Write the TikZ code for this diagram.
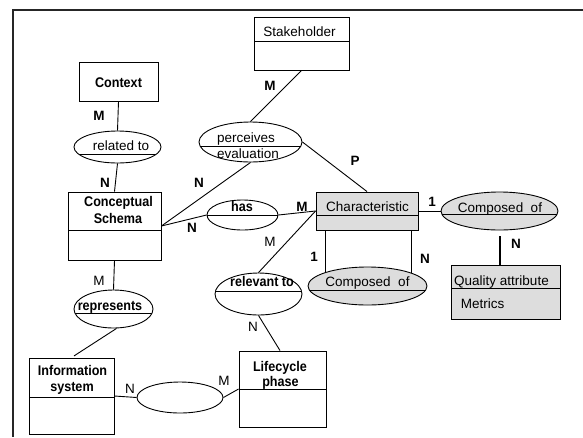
\documentclass[tikz,border=0pt]{standalone}
\usepackage{fontspec}
\setmainfont{Liberation Sans}
\newfontfamily\narrowfont[FakeStretch=0.9]{Liberation Sans}
\usetikzlibrary{shapes.geometric}
\definecolor{fillgray}{HTML}{DDDDDD}
\tikzset{
  ent/.style={draw, rectangle, inner sep=0pt, line width=0.9pt},
  rel/.style={draw, ellipse, inner sep=0pt, line width=0.9pt},
  grayfill/.style={fill=fillgray},
  divider/.style={path picture={\draw[line width=0.9pt] ([yshift=-#1pt]path picture bounding box.north west) -- ([yshift=-#1pt]path picture bounding box.north east);}},
  chordline/.style={path picture={\draw[line width=0.9pt] ([yshift=-#1pt]path picture bounding box.west) -- ([yshift=-#1pt]path picture bounding box.east);}},
  conn/.style={line width=0.9pt},
  txt/.style={inner sep=0pt, text height=0.6em, text depth=0pt, font=\fontsize{13.5}{15}\selectfont},
  btxt/.style={inner sep=0pt, text height=0.6em, text depth=0pt, font=\narrowfont\bfseries\fontsize{14}{15}\selectfont},
  card/.style={inner sep=0pt, text height=0.72em, text depth=0pt, font=\bfseries\fontsize{13.5}{14}\selectfont},
  rcard/.style={inner sep=0pt, text height=0.72em, text depth=0pt, font=\fontsize{13.5}{14}\selectfont},
}
\begin{document}
\begin{tikzpicture}[x=1pt,y=-1pt]
\useasboundingbox (0,0) rectangle (583,437);
% frame
\coordinate (fTL) at (13,10);
\coordinate (fTR) at (583,10);
\coordinate (fBL) at (13,437);
\draw[line width=1.2pt, black!85] (fTR) -- (fTL) -- (fBL);

% entities
\node[ent, minimum width=79pt, minimum height=39pt] (ctx) at (118.5,81.5) {};
\node[ent, minimum width=95pt, minimum height=53pt, divider=24] (stake) at (301.5,43.5) {};
\node[ent, minimum width=93pt, minimum height=68pt, divider=38] (cs) at (114.5,226) {};
\node[ent, grayfill, minimum width=102pt, minimum height=38pt, divider=23] (char) at (367,211) {};
\node[ent, grayfill, minimum width=109pt, minimum height=54pt, divider=23] (qa) at (505.5,292) {};
\node[ent, minimum width=85pt, minimum height=76pt, divider=39] (is) at (71.5,396) {};
\node[ent, minimum width=87pt, minimum height=76pt, divider=38] (life) at (282.5,389) {};

% relationships
\node[rel, minimum width=87pt, minimum height=32pt, chordline=7] (relto) at (117.5,147) {};
\node[rel, minimum width=103pt, minimum height=40pt, chordline=4] (pe) at (250.5,142) {};
\node[rel, minimum width=71pt, minimum height=30pt, chordline=0] (has) at (242.5,215) {};
\node[rel, grayfill, minimum width=117pt, minimum height=38pt, chordline=3] (comp1) at (499.5,211) {};
\node[rel, grayfill, minimum width=119pt, minimum height=38pt, chordline=4] (comp2) at (367.5,286) {};
\node[rel, minimum width=87pt, minimum height=42pt, chordline=-3] (relev) at (258.5,294) {};
\node[rel, minimum width=79pt, minimum height=38pt, chordline=4] (rep) at (113.5,309) {};
\node[rel, minimum width=86pt, minimum height=31pt] (un) at (180,397.5) {};

% texts
\node[btxt] (tctx) at (118.5,84) {Context};
\node[txt] (tstake) at (299.5,33) {Stakeholder};
\node[btxt] (tcs1) at (118.5,203) {Conceptual};
\node[btxt] (tcs2) at (118,220) {Schema};
\node[txt] (tchar) at (367.5,208) {Characteristic};
\node[txt] (tqa) at (501.5,282) {Quality attribute};
\node[txt] (tmet) at (482.5,305) {Metrics};
\node[btxt] (tis1) at (72.5,372) {Information};
\node[btxt] (tis2) at (72,388) {system};
\node[btxt] (tlife1) at (280,368) {Lifecycle};
\node[btxt] (tlife2) at (280.5,383) {phase};
\node[txt] (trel) at (121,147) {related to};
\node[txt] (tpe1) at (246,139) {perceives};
\node[txt] (tpe2) at (248,155) {evaluation};
\node[btxt] (thas) at (242,208) {has};
\node[txt] (tc1) at (500,209) {Composed\ \ of};
\node[txt] (tc2) at (367.5,283) {Composed\ \ of};
\node[btxt] (trelev) at (262,283) {relevant to};
\node[btxt] (trep) at (110,307) {represents};

% connectors
\draw[conn] (ctx.south) -- (relto.north);
\draw[conn] (relto.south) -- (cs.north);
\draw[conn] (stake.south) -- (pe.north);
\draw[conn] (pe.east) -- (char.north);
\draw[conn] (pe.south) -- (cs.east);
\draw[conn] (cs.east) -- (has.west);
\draw[conn] (has.east) -- (char.west);
\draw[conn] (char.west) -- (relev.north);
\draw[conn] (char.east) -- (comp1.west);
\draw[line width=2pt] ([yshift=-6pt]comp1.south) -- (comp1.south |- qa.north);
\draw[conn] (comp2.162.6 |- char.south) -- (comp2.162.6);
\draw[conn] (comp2.17.4 |- char.south) -- (comp2.17.4);
\draw[conn] (relev.south) -- ([xshift=-2.5pt]life.north);
\draw[conn] (life.west) -- (un.east);
\draw[conn] (is.east) -- (un.west);
\draw[conn] (cs.south) -- (rep.north);
\draw[conn, shorten >=3pt] ([xshift=3pt]rep.south) -- (is.north);

% cardinalities
\node[card] (c1) at (99,117) {M};
\node[card] (c2) at (105,184) {N};
\node[card] (c3) at (270,87) {M};
\node[card] (c4) at (355,162) {P};
\node[card] (c5) at (199,184) {N};
\node[card] (c6) at (192,229) {N};
\node[card] (c7) at (302,208) {M};
\node[card] (c8) at (432,203) {1};
\node[card] (c9) at (516,245) {N};
\node[card] (c10) at (314,258) {1};
\node[card] (c11) at (425,260) {N};
\node[rcard] (c12) at (270,243) {M};
\node[rcard] (c13) at (253,328) {N};
\node[rcard] (c14) at (99,282) {M};
\node[rcard] (c15) at (130,390) {N};
\node[rcard] (c16) at (224,382) {M};
\end{tikzpicture}
\end{document}
